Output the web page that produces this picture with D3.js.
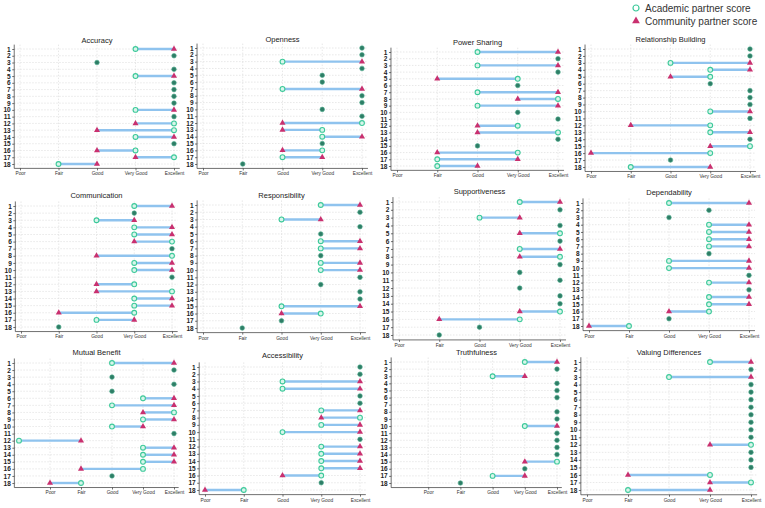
<!DOCTYPE html>
<html>
<head>
<meta charset="utf-8">
<script src="https://cdn.jsdelivr.net/npm/d3@7"></script>
<style>
body { margin: 0; background: #fff; }
svg { font-family: "Liberation Sans", Arial, sans-serif; }
.grid line { stroke: #d9d9d9; stroke-width: 0.6; stroke-dasharray: 1.5,1.5; }
.axis path, .axis line { stroke: #333; stroke-width: 0.7; }
.yaxis text { font-size: 6.5px; fill: #222; font-weight: bold; }
.xaxis text { font-size: 4.8px; fill: #333; }
</style>
</head>
<body>
<svg width="765" height="508"></svg>
<script>
var titles = ["Accuracy", "Openness", "Power Sharing", "Relationship Building",
    "Communication", "Responsibility", "Supportiveness", "Dependability",
    "Mutual Benefit", "Accessibility", "Truthfulness", "Valuing Differences"];

var rating_labels = ["Poor", "Fair", "Good", "Very Good", "Excellent"];
var rating_values = [1, 2, 3, 4, 5];
var partners = d3.range(1, 19);

// academic partner score per panel, partner 1..18
var academic = [
    [4,5,3,5,4,5,5,5,5,4,5,5,5,4,5,4,5,2],
    [5,5,3,5,4,4,3,5,5,4,5,5,4,4,4,4,3,2],
    [3,5,3,5,4,4,3,5,3,4,5,4,5,5,3,4,2,2],
    [5,5,3,4,4,4,5,5,5,4,5,4,4,5,5,4,3,2],
    [4,4,3,4,4,5,5,5,4,4,5,4,5,4,4,4,3,2],
    [4,5,3,5,4,4,4,4,4,4,5,4,5,5,3,4,3,2],
    [4,5,3,5,5,5,4,5,5,4,5,4,5,5,5,4,3,2],
    [3,4,3,4,4,4,4,4,3,3,5,4,5,4,4,4,3,2],
    [3,5,3,5,3,4,3,5,4,3,5,0,4,4,4,4,3,2],
    [5,5,3,3,5,5,4,5,4,3,5,4,4,4,4,4,4,2],
    [4,5,3,5,5,5,null,5,5,4,5,5,5,5,5,4,3,2],
    [4,5,3,5,5,5,5,5,5,5,5,5,5,5,5,4,5,2]
];

// community partner score per panel
var community = [
    [5,5,3,5,5,5,5,5,5,5,5,4,3,5,5,3,4,3],
    [5,5,5,5,4,4,5,5,5,4,5,3,3,5,4,3,4,2],
    [5,5,5,5,2,4,5,4,5,4,5,3,3,5,3,2,4,3],
    [5,5,5,5,3,4,5,5,5,5,5,2,5,5,4,1,3,4],
    [5,4,4,5,5,4,5,3,5,5,5,3,3,5,5,2,4,2],
    [5,5,4,5,4,5,5,4,5,5,5,4,5,5,5,3,3,2],
    [5,5,4,5,4,5,5,4,5,4,5,4,5,5,4,2,3,2],
    [5,4,3,5,5,5,5,4,5,5,5,5,5,5,5,3,3,1],
    [5,5,3,5,3,5,5,4,5,4,5,2,5,5,5,2,3,1],
    [5,5,5,5,5,5,5,4,5,5,5,5,5,5,5,3,4,1],
    [5,5,4,5,5,5,null,5,5,5,5,5,5,5,4,4,4,2],
    [5,5,5,5,5,5,5,5,5,5,5,4,5,5,5,2,4,4]
];

// lowest value on each panel's x scale
var scale_min = [1,1,1,1,1,1,1,1,0,1,0,1];

// panel placement: [x of scale min, x of Excellent, y of row 1, y of row 18, title y]
var placement = [
    [20, 174, 49, 164, 43],
    [203, 362, 48, 164, 42],
    [397, 558, 52, 166, 45],
    [591, 750, 49, 167, 42],
    [21, 172, 206, 327, 198],
    [203, 360, 205, 328, 198],
    [399, 560, 202, 335, 194],
    [589, 749, 203, 326, 195],
    [19, 174, 363, 483, 355],
    [205, 360, 367, 490, 358],
    [396, 557, 362, 483, 355],
    [587, 751, 362, 490, 355]
];

var col_academic = "#3cc99a";
var col_community = "#c9306f";
var col_same = "#2e7d66";
var col_segment = "#8fc3ee";

var svg = d3.select("svg");

function draw_panel(i) {
    var p = placement[i];
    var smin = scale_min[i];
    var unit = (p[1] - p[0]) / (5 - smin);
    var pad = unit * 0.15;

    var x_scale = d3.scaleLinear()
        .domain([smin, 5])
        .range([p[0], p[1]]);

    var step = (p[3] - p[2]) / 17;
    var y_scale = d3.scalePoint()
        .domain(partners)
        .range([p[2] - step / 2, p[3] + step / 2])
        .padding(0.5);

    var g = svg.append("g").attr("class", "panel");

    var left = p[0] - pad, right = p[1] + pad;
    var top = p[2] - step / 2 - 1, bottom = p[3] + step / 2 + 1;

    // grid
    var grid = g.append("g").attr("class", "grid");
    grid.selectAll("line.h")
        .data(partners)
        .enter().append("line")
        .attr("x1", left).attr("x2", right)
        .attr("y1", function(d) { return y_scale(d); })
        .attr("y2", function(d) { return y_scale(d); });
    grid.selectAll("line.v")
        .data(rating_values)
        .enter().append("line")
        .attr("x1", function(d) { return x_scale(d); })
        .attr("x2", function(d) { return x_scale(d); })
        .attr("y1", top).attr("y2", bottom);

    // axes
    var y_axis = d3.axisLeft(y_scale).tickSize(2).tickPadding(1.5);
    g.append("g")
        .attr("class", "axis yaxis")
        .attr("transform", "translate(" + left + ",0)")
        .call(y_axis)
        .select(".domain")
        .attr("d", "M0," + top + "V" + bottom);

    var x_axis = d3.axisBottom(x_scale)
        .tickValues(rating_values)
        .tickFormat(function(d, k) { return rating_labels[k]; })
        .tickSize(2).tickPadding(1.5);
    g.append("g")
        .attr("class", "axis xaxis")
        .attr("transform", "translate(0," + bottom + ")")
        .call(x_axis)
        .select(".domain")
        .attr("d", "M" + left + ",0H" + right);

    // title
    g.append("text")
        .attr("x", (left + right) / 2)
        .attr("y", p[4])
        .attr("text-anchor", "middle")
        .attr("font-size", "7.5px")
        .attr("fill", "#222")
        .text(titles[i]);

    var rows = partners.map(function(d, k) {
        return { id: d, a: academic[i][k], c: community[i][k] };
    }).filter(function(d) { return d.a !== null && d.c !== null; });

    // segments between the two scores
    g.selectAll("line.seg")
        .data(rows.filter(function(d) { return d.a !== d.c; }))
        .enter().append("line")
        .attr("x1", function(d) { return x_scale(d.a); })
        .attr("x2", function(d) { return x_scale(d.c); })
        .attr("y1", function(d) { return y_scale(d.id); })
        .attr("y2", function(d) { return y_scale(d.id); })
        .attr("stroke", col_segment)
        .attr("stroke-width", 2.4);

    // same score: one dark dot
    g.selectAll("circle.same")
        .data(rows.filter(function(d) { return d.a === d.c; }))
        .enter().append("circle")
        .attr("cx", function(d) { return x_scale(d.a); })
        .attr("cy", function(d) { return y_scale(d.id); })
        .attr("r", 2.3)
        .attr("fill", col_same)
        .attr("stroke", "#4fae8f")
        .attr("stroke-width", 0.6);

    var diff = rows.filter(function(d) { return d.a !== d.c; });

    g.selectAll("circle.acad")
        .data(diff)
        .enter().append("circle")
        .attr("cx", function(d) { return x_scale(d.a); })
        .attr("cy", function(d) { return y_scale(d.id); })
        .attr("r", 2.4)
        .attr("fill", "#d8f5ea")
        .attr("stroke", col_academic)
        .attr("stroke-width", 1.1);

    g.selectAll("path.comm")
        .data(diff)
        .enter().append("path")
        .attr("transform", function(d) {
            return "translate(" + x_scale(d.c) + "," + y_scale(d.id) + ")";
        })
        .attr("d", d3.symbol().type(d3.symbolTriangle).size(16))
        .attr("fill", col_community);
}

for (var i = 0; i < titles.length; i++) {
    draw_panel(i);
}

// legend
var legend = svg.append("g").attr("transform", "translate(636,8)");
legend.append("circle")
    .attr("cx", 0).attr("cy", 0).attr("r", 3)
    .attr("fill", "#fff").attr("stroke", col_academic).attr("stroke-width", 1.2);
legend.append("text")
    .attr("x", 9).attr("y", 3.5)
    .attr("font-size", "10px").attr("fill", "#333")
    .text("Academic partner score");
legend.append("path")
    .attr("transform", "translate(0,13)")
    .attr("d", d3.symbol().type(d3.symbolTriangle).size(26))
    .attr("fill", col_community);
legend.append("text")
    .attr("x", 9).attr("y", 16.5)
    .attr("font-size", "10px").attr("fill", "#333")
    .text("Community partner score");
</script>
</body>
</html>
